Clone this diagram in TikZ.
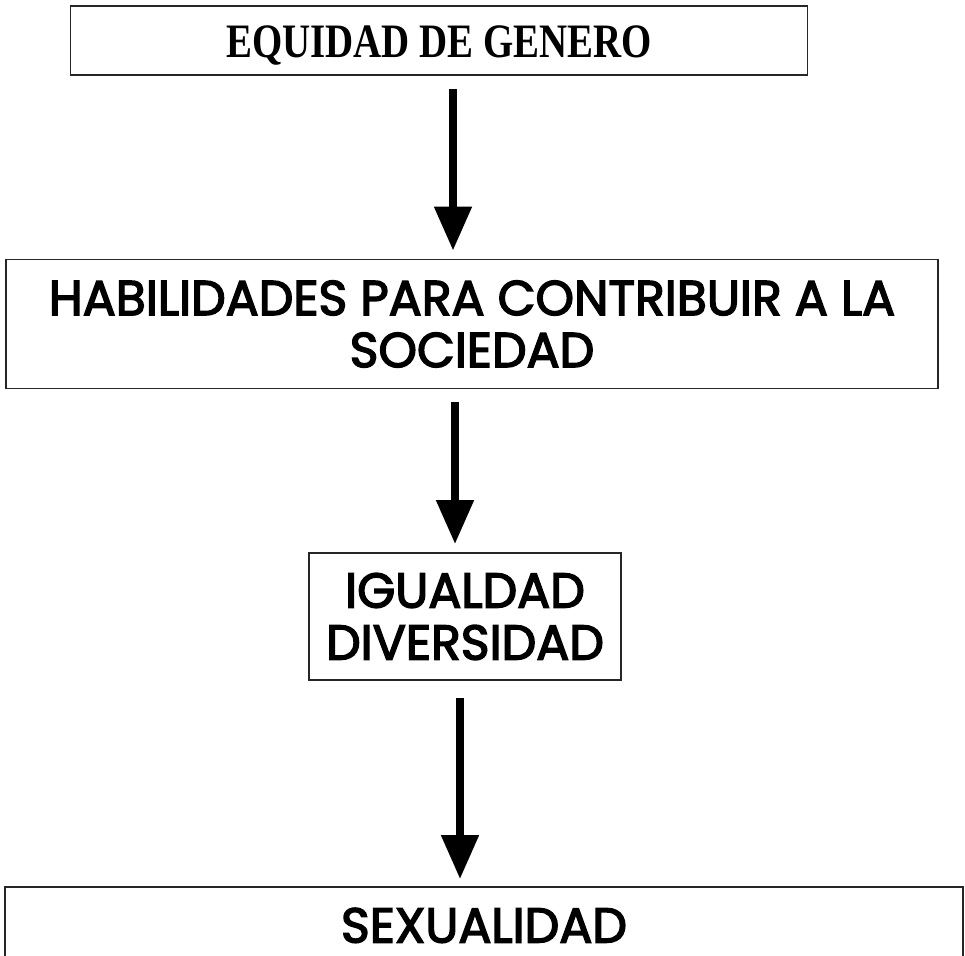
\documentclass[tikz,border=0pt]{standalone}
\usepackage{fontspec}
\setmainfont{Liberation Serif}
\newfontfamily\narrowserif{Liberation Serif}[FakeStretch=0.81]
\newfontfamily\comicfont{Poppins}[FakeBold=3]
\usetikzlibrary{arrows.meta, positioning}

\begin{document}
\begin{tikzpicture}[
    x=1pt, y=1pt,
    stagebox/.style={rectangle, draw=black!85, line width=1.8pt, inner sep=0pt, align=center},
    comic/.style={stagebox, font=\comicfont\fontsize{49}{52}\selectfont},
    arrow/.style={line width=8pt, -{Triangle[width=36pt, length=44pt]}}
]
\useasboundingbox (0,0) rectangle (965,-955);
\clip (0,0) rectangle (965,-955);

% Nodes
\node (equidad) [stagebox, minimum width=737pt, minimum height=69pt, text height=35pt, text depth=0pt, font=\narrowserif\bfseries\fontsize{48}{52}\selectfont] at (439,-40.5) {EQUIDAD DE GENERO};
\node (habilidades) [comic, minimum width=932pt, minimum height=129pt] at (472,-324) {HABILIDADES PARA CONTRIBUIR A LA\\SOCIEDAD};
\node (igualdad) [comic, minimum width=312pt, minimum height=127pt] at (465,-616.5) {IGUALDAD\\DIVERSIDAD};
\node (sexualidad) [comic, draw=none, minimum width=956pt, minimum height=67pt, text height=42pt, text depth=0pt] at (484,-921.5) {SEXUALIDAD};
\draw [black!85, line width=1.8pt] (sexualidad.south west) |- (sexualidad.north east) -- (sexualidad.south east);

% Arrows
\draw [arrow] ([xshift=14pt, yshift=-13pt]equidad.south) -- ([xshift=-19pt, yshift=8pt]habilidades.north);
\draw [arrow] ([xshift=-17pt, yshift=-13pt]habilidades.south) -- ([xshift=-10pt, yshift=8pt]igualdad.north);
\draw [arrow] ([xshift=-5pt, yshift=-17pt]igualdad.south) -- ([xshift=-24pt, yshift=8pt]sexualidad.north);

\end{tikzpicture}
\end{document}
